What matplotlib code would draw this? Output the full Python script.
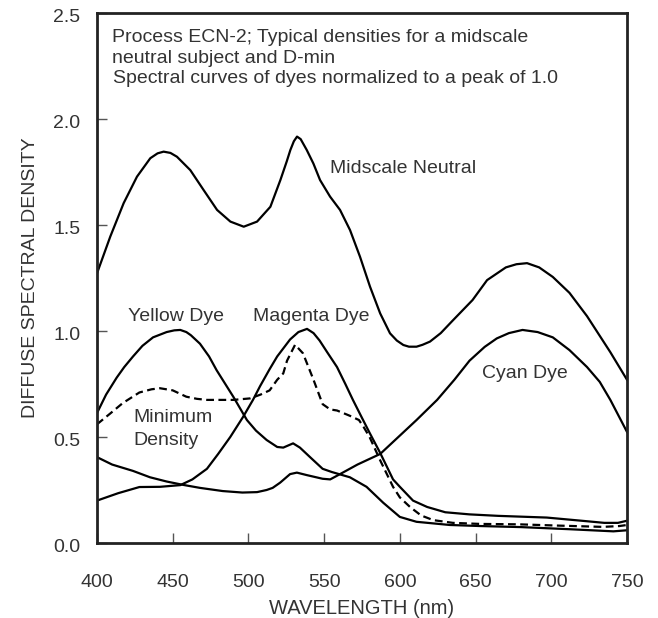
import matplotlib
matplotlib.use("Agg")
import matplotlib.pyplot as plt
from matplotlib.transforms import ScaledTranslation

plt.rcParams['font.family'] = ['Liberation Sans', 'DejaVu Sans']

# curves (wavelength nm, density)
neutral_wl = [400, 408.8, 417.6, 426.4, 435.2, 440, 444, 448.5, 452.8, 461.6, 470.4,
              479.3, 488.1, 496.9, 505.7, 514.5, 521.1, 525.3, 527.7, 530, 532.1,
              534.5, 538.5, 542.9, 547.3, 553.9, 560.5, 567.1, 573.7, 580.3, 587,
              593.5, 598, 602.3, 606, 611, 615, 619.9, 627, 635, 648, 657.6, 670,
              677, 684, 692, 701, 712, 723.6, 739, 750]
neutral_d = [1.272, 1.446, 1.603, 1.728, 1.815, 1.838, 1.846, 1.84, 1.822, 1.759, 1.665,
             1.571, 1.516, 1.492, 1.516, 1.586, 1.712, 1.80, 1.854, 1.895, 1.917,
             1.905, 1.854, 1.79, 1.712, 1.634, 1.571, 1.476, 1.35, 1.209, 1.083,
             0.989, 0.955, 0.934, 0.926, 0.926, 0.935, 0.95, 0.99, 1.05, 1.146, 1.24,
             1.30, 1.315, 1.32, 1.30, 1.255, 1.18, 1.07, 0.90, 0.77]

yellow_wl = [400, 406, 413, 418, 423.8, 430, 437, 446, 451, 455, 459, 462, 468, 474,
             479, 490, 499, 505, 512, 519, 523, 529.5, 534, 540.7, 549, 555, 567, 578,
             589, 600, 611, 633, 653, 680, 712, 741, 750]
yellow_d = [0.613, 0.70, 0.78, 0.83, 0.88, 0.93, 0.97, 0.995, 1.003, 1.005, 0.995, 0.98,
            0.94, 0.88, 0.815, 0.69, 0.58, 0.53, 0.486, 0.453, 0.45, 0.47, 0.45, 0.405,
            0.35, 0.335, 0.31, 0.265, 0.19, 0.123, 0.10, 0.085, 0.08, 0.075, 0.065,
            0.055, 0.06]

magenta_wl = [400, 414, 428, 441.6, 455, 463, 472.6, 480, 488, 496.4, 503, 507.7, 514,
              519, 527.5, 533, 538.7, 543, 547, 552, 558.5, 564, 569, 575, 580, 587,
              595.5, 600, 608.7, 618, 630, 646, 665, 697, 720, 735, 744, 750]
magenta_d = [0.20, 0.235, 0.264, 0.265, 0.273, 0.30, 0.35, 0.42, 0.50, 0.594, 0.675,
             0.74, 0.82, 0.88, 0.96, 0.995, 1.01, 0.99, 0.955, 0.90, 0.83, 0.75, 0.675,
             0.59, 0.52, 0.425, 0.30, 0.265, 0.20, 0.17, 0.145, 0.135, 0.128, 0.12,
             0.105, 0.095, 0.095, 0.105]

cyan_wl = [400, 410, 423.8, 435, 446, 457, 468, 483, 496, 505.7, 512, 516, 521, 527.5,
           532, 538.7, 549, 554, 560.5, 572, 587, 602, 611, 624.6, 636, 646, 656, 664,
           672, 681, 691, 701, 712, 723.6, 732, 739, 750]
cyan_d = [0.405, 0.37, 0.34, 0.31, 0.29, 0.274, 0.26, 0.245, 0.238, 0.24, 0.25, 0.26,
          0.285, 0.325, 0.332, 0.32, 0.303, 0.30, 0.325, 0.37, 0.42, 0.52, 0.58, 0.675,
          0.77, 0.86, 0.925, 0.965, 0.99, 1.005, 0.995, 0.97, 0.91, 0.83, 0.76, 0.675,
          0.524]

dmin_wl = [400, 408.6, 417, 428, 436, 441.6, 450, 459, 466, 472.6, 490, 501, 508, 514,
           519, 523, 525.5, 530.8, 536, 542.7, 549, 554, 558.5, 567, 573, 576, 580,
           587, 595.5, 600, 606.7, 614, 622, 635, 653, 679, 705, 734, 745, 750]
dmin_d = [0.56, 0.61, 0.66, 0.71, 0.725, 0.73, 0.72, 0.69, 0.68, 0.675, 0.675, 0.682,
          0.70, 0.72, 0.77, 0.80, 0.86, 0.935, 0.895, 0.775, 0.655, 0.63, 0.625, 0.60,
          0.58, 0.548, 0.50, 0.39, 0.265, 0.215, 0.17, 0.13, 0.108, 0.095, 0.09, 0.088,
          0.082, 0.076, 0.08, 0.085]

xticks = [400, 450, 500, 550, 600, 650, 700, 750]
yticks = [0.0, 0.5, 1.0, 1.5, 2.0, 2.5]

txt = '#333333'

fig = plt.figure(figsize=(6.58, 6.18), dpi=100)
ax = fig.add_axes([97 / 658, 75 / 618, 530 / 658, 530 / 618])

lw = 1.6
ax.plot(neutral_wl, neutral_d, color='black', lw=lw)
ax.plot(yellow_wl, yellow_d, color='black', lw=lw)
ax.plot(magenta_wl, magenta_d, color='black', lw=lw)
ax.plot(cyan_wl, cyan_d, color='black', lw=lw)
ax.plot(dmin_wl, dmin_d, color='black', lw=lw, linestyle=(0, (3.5, 2)))

ax.set_xlim(400, 750)
ax.set_ylim(0, 2.5)
ax.set_xticks(xticks)
ax.set_yticks(yticks)
ax.set_xticklabels([str(v) for v in xticks])
ax.set_yticklabels(['%.1f' % v for v in yticks])
ax.tick_params(direction='in', length=7, width=1, color='#555555',
               labelsize=14, labelcolor=txt)
ax.tick_params(axis='x', pad=22)
ax.tick_params(axis='y', pad=12)
shift = ScaledTranslation(0, -3 / 100, fig.dpi_scale_trans)
for lab in ax.get_yticklabels():
    lab.set_transform(lab.get_transform() + shift)
for s in ax.spines.values():
    s.set_linewidth(2)
    s.set_color('#222222')

ax.set_xlabel('WAVELENGTH (nm)', fontsize=14.5, color=txt, labelpad=6)
ax.set_ylabel('DIFFUSE SPECTRAL DENSITY', fontsize=14, color=txt, labelpad=10)

fs = 14
ax.text(410, 2.365, 'Process ECN-2; Typical densities for a midscale',
        fontsize=fs, color=txt)
ax.text(410, 2.263, 'neutral subject and D-min', fontsize=fs, color=txt)
ax.text(410.3, 2.168, 'Spectral curves of dyes normalized to a peak of 1.0',
        fontsize=fs, color=txt)

ax.text(553.9, 1.747, 'Midscale Neutral', fontsize=fs, color=txt)
ax.text(420.7, 1.049, 'Yellow Dye', fontsize=fs, color=txt)
ax.text(503.3, 1.049, 'Magenta Dye', fontsize=fs, color=txt)
ax.text(654, 0.777, 'Cyan Dye', fontsize=fs, color=txt)
ax.text(424, 0.572, 'Minimum', fontsize=fs, color=txt)
ax.text(424, 0.462, 'Density', fontsize=fs, color=txt)

fig.savefig('out.png', dpi=100)
